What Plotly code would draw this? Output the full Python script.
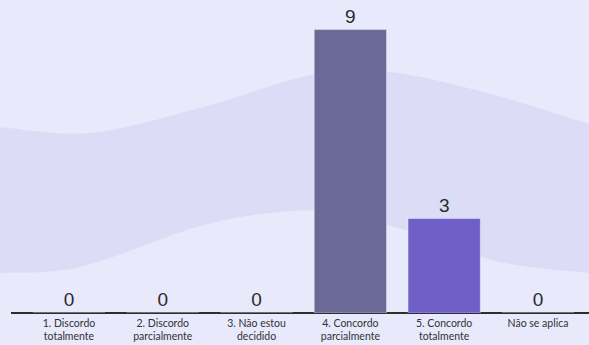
import numpy as np
import plotly.graph_objects as go

# Survey answers and number of respondents per answer
categories = [
    "1. Discordo<br>totalmente",
    "2. Discordo<br>parcialmente",
    "3. Não estou<br>decidido",
    "4. Concordo<br>parcialmente",
    "5. Concordo<br>totalmente",
    "Não se aplica",
]
counts = [0, 0, 0, 9, 3, 0]
bar_colors = ["#6B6996", "#6B6996", "#6B6996", "#6B6996", "#6F5FC7", "#6F5FC7"]

W, H = 589, 345
M_L, M_R, M_T, M_B = 11, 0, 0, 32
PW, PH = W - M_L - M_R, H - M_T - M_B

BG = "#E8E9FB"
BAND = "#DCDCF6"


def catmull_rom(pts, n=24):
    pts = np.asarray(pts, dtype=float)
    p = np.vstack([pts[0], pts, pts[-1]])
    out = []
    for i in range(1, len(p) - 2):
        p0, p1, p2, p3 = p[i - 1], p[i], p[i + 1], p[i + 2]
        for t in np.linspace(0, 1, n, endpoint=False):
            t2, t3 = t * t, t * t * t
            out.append(0.5 * ((2 * p1) + (-p0 + p2) * t
                              + (2 * p0 - 5 * p1 + 4 * p2 - p3) * t2
                              + (-p0 + 3 * p1 - 3 * p2 + p3) * t3))
    out.append(p[-2])
    return np.array(out)


def to_paper(xy):
    return [((x - M_L) / PW, 1 - (y - M_T) / PH) for x, y in xy]


# Decorative wave band behind the bars (pixel outline -> paper coords)
upper = catmull_rom([(0, 127), (90, 133), (200, 108), (315, 74), (390, 72),
                     (487, 93), (589, 124)])
lower = catmull_rom([(0, 273), (80, 267), (200, 226), (280, 212), (330, 213),
                     (420, 234), (500, 262), (589, 273)])
outline = to_paper(list(upper) + list(lower[::-1]))
band_path = "M " + " L ".join(f"{x:.4f},{y:.4f}" for x, y in outline) + " Z"

fig = go.Figure()
fig.add_trace(go.Bar(
    x=categories,
    y=counts,
    width=0.77,
    marker=dict(color=bar_colors, line=dict(color="rgba(255,255,255,0.35)", width=1)),
    text=[str(c) for c in counts],
    textposition="outside",
    textfont=dict(family="Liberation Sans, Arial, sans-serif", size=19, color="#2B2B2B"),
    cliponaxis=False,
    hoverinfo="skip",
))

fig.update_layout(
    width=W, height=H,
    margin=dict(l=M_L, r=M_R, t=M_T, b=M_B, pad=0),
    paper_bgcolor=BG,
    plot_bgcolor="rgba(0,0,0,0)",
    showlegend=False,
    bargap=0.23,
    shapes=[dict(type="path", path=band_path, xref="paper", yref="paper",
                 fillcolor=BAND, line=dict(width=0), layer="below")],
    xaxis=dict(
        range=[-0.618, 5.544],
        showgrid=False, zeroline=False,
        showline=False,
        ticks="",
        ticklabelstandoff=2,
        tickfont=dict(family="Lato, Inter, sans-serif", size=10.5, color="#333333"),
        fixedrange=True,
    ),
    yaxis=dict(
        range=[0, 9.94],
        showgrid=False, showticklabels=False,
        zeroline=True, zerolinecolor="#2E2E2E", zerolinewidth=2,
        fixedrange=True,
    ),
)

fig.write_html("out.html")
